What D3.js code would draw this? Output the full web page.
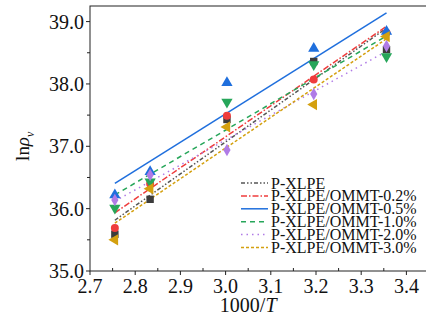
<!DOCTYPE html>
<html>
<head>
<meta charset="utf-8">
<script src="https://cdn.jsdelivr.net/npm/d3@7"></script>
<style>
  html, body { margin: 0; padding: 0; background: #fff; }
  text { font-family: "Liberation Serif", "Times New Roman", serif; fill: #111; }
</style>
</head>
<body>
<div id="chart"></div>
<script>
const W = 426, H = 323;
const MARGIN = { top: 6, right: -3, bottom: 52, left: 90 };

// 1000/T values of the measurement temperatures
const invT = [2.755, 2.833, 3.003, 3.195, 3.356];

const seriesNames = [
  "P-XLPE",
  "P-XLPE/OMMT-0.2%",
  "P-XLPE/OMMT-0.5%",
  "P-XLPE/OMMT-1.0%",
  "P-XLPE/OMMT-2.0%",
  "P-XLPE/OMMT-3.0%",
];
const pXlpe   = [35.59, 36.15, 37.43, 38.36, 38.55];
const ommt02  = [35.69, 36.40, 37.49, 38.07, 38.82];
const ommt05  = [36.22, 36.59, 38.02, 38.57, 38.84];
const ommt10  = [36.01, 36.43, 37.71, 38.31, 38.44];
const ommt20  = [36.14, 36.54, 36.94, 37.84, 38.61];
const ommt30  = [35.50, 36.32, 37.31, 37.67, 38.76];

const xTicks = [2.7, 2.8, 2.9, 3.0, 3.1, 3.2, 3.3, 3.4];
const yTicks = [35, 36, 37, 38, 39];

const styles = [
  { color: "#3c3c3c", line: "#555", dash: "4,2,1.5,2,1.5,2", symbol: d3.symbolSquare, rot: 0 },
  { color: "#ef3c3c", line: "#ef3c3c", dash: "6,2,1.5,2", symbol: d3.symbolCircle, rot: 0 },
  { color: "#1f6fdd", line: "#1f6fdd", dash: null, symbol: d3.symbolTriangle, rot: 0 },
  { color: "#27a65a", line: "#27a65a", dash: "5,4", symbol: d3.symbolTriangle, rot: 180 },
  { color: "#b07be6", line: "#b07be6", dash: "1.5,4", symbol: d3.symbolDiamond, rot: 0 },
  { color: "#d4a00f", line: "#d4a00f", dash: "3,2", symbol: d3.symbolTriangle, rot: -90 },
];

const seriesValues = [pXlpe, ommt02, ommt05, ommt10, ommt20, ommt30];

const svg = d3.select("#chart").append("svg")
  .attr("width", W).attr("height", H);

const x = d3.scaleLinear().domain([2.7, 3.45]).range([MARGIN.left, W - MARGIN.right]);
const y = d3.scaleLinear().domain([35, 39.25]).range([H - MARGIN.bottom, MARGIN.top]);

// frame
svg.append("rect")
  .attr("x", x(2.7)).attr("y", y(39.25))
  .attr("width", x(3.45) - x(2.7)).attr("height", y(35) - y(39.25))
  .attr("fill", "none").attr("stroke", "#222").attr("stroke-width", 1);

// x axis
const xAxisG = svg.append("g").attr("transform", `translate(0,${y(35)})`);
xAxisG.selectAll("line.minor")
  .data(d3.range(2.75, 3.45, 0.1))
  .join("line")
  .attr("x1", d => x(d)).attr("x2", d => x(d))
  .attr("y1", 0).attr("y2", -3)
  .attr("stroke", "#222");
xAxisG.selectAll("line.major")
  .data(xTicks)
  .join("line")
  .attr("x1", d => x(d)).attr("x2", d => x(d))
  .attr("y1", 0).attr("y2", 4)
  .attr("stroke", "#222");
xAxisG.selectAll("text.tick")
  .data(xTicks)
  .join("text")
  .attr("x", d => x(d)).attr("y", 22)
  .attr("text-anchor", "middle")
  .attr("font-size", 20)
  .text(d => d3.format(".1f")(d));

svg.append("text")
  .attr("x", x(3.05)).attr("y", 312)
  .attr("text-anchor", "middle")
  .attr("font-size", 20)
  .html('1000/<tspan font-style="italic">T</tspan>');

// y axis
const yAxisG = svg.append("g").attr("transform", `translate(${x(2.7)},0)`);
yAxisG.selectAll("line.minor")
  .data([35.5, 36.5, 37.5, 38.5])
  .join("line")
  .attr("x1", 0).attr("x2", -3)
  .attr("y1", d => y(d)).attr("y2", d => y(d))
  .attr("stroke", "#222");
yAxisG.selectAll("line.major")
  .data(yTicks)
  .join("line")
  .attr("x1", 0).attr("x2", -4)
  .attr("y1", d => y(d)).attr("y2", d => y(d))
  .attr("stroke", "#222");
yAxisG.selectAll("text.tick")
  .data(yTicks)
  .join("text")
  .attr("x", -6).attr("y", d => y(d) + 7)
  .attr("text-anchor", "end")
  .attr("font-size", 20)
  .text(d => d3.format(".1f")(d));

svg.append("text")
  .attr("transform", `translate(29,${y(37)}) rotate(-90)`)
  .attr("text-anchor", "middle")
  .attr("font-size", 19)
  .html('ln<tspan font-style="italic">ρ</tspan><tspan font-style="italic" font-size="12" dy="5">v</tspan>');

// linear fits
function fit(xs, ys) {
  const mx = d3.mean(xs), my = d3.mean(ys);
  const sxy = d3.sum(xs, (v, i) => (v - mx) * (ys[i] - my));
  const sxx = d3.sum(xs, v => (v - mx) * (v - mx));
  const k = sxy / sxx;
  return v => my + k * (v - mx);
}

const plot = svg.append("g");
seriesValues.forEach((vals, i) => {
  const f = fit(invT, vals);
  const ends = d3.extent(invT);
  plot.append("line")
    .attr("x1", x(ends[0])).attr("y1", y(f(ends[0])))
    .attr("x2", x(ends[1])).attr("y2", y(f(ends[1])))
    .attr("stroke", styles[i].line)
    .attr("stroke-width", 1.5)
    .attr("stroke-dasharray", styles[i].dash);
});

seriesValues.forEach((vals, i) => {
  const s = styles[i];
  const sym = d3.symbol().type(s.symbol).size(s.symbol === d3.symbolCircle ? 50 : s.symbol === d3.symbolDiamond ? 45 : 55);
  plot.selectAll(null)
    .data(vals)
    .join("path")
    .attr("d", sym)
    .attr("transform", (d, j) => `translate(${x(invT[j])},${y(d)}) rotate(${s.rot})`)
    .attr("fill", s.color);
});

// legend
const legend = svg.append("g").attr("transform", "translate(241,183)");
seriesNames.forEach((name, i) => {
  const row = legend.append("g").attr("transform", `translate(0,${i * 12.9})`);
  row.append("line")
    .attr("x1", 0).attr("x2", 27).attr("y1", 0).attr("y2", 0)
    .attr("stroke", styles[i].line)
    .attr("stroke-width", 1.5)
    .attr("stroke-dasharray", styles[i].dash);
  row.append("text")
    .attr("x", 30).attr("y", 5.5)
    .attr("font-size", 16)
    .text(name);
});
</script>
</body>
</html>
